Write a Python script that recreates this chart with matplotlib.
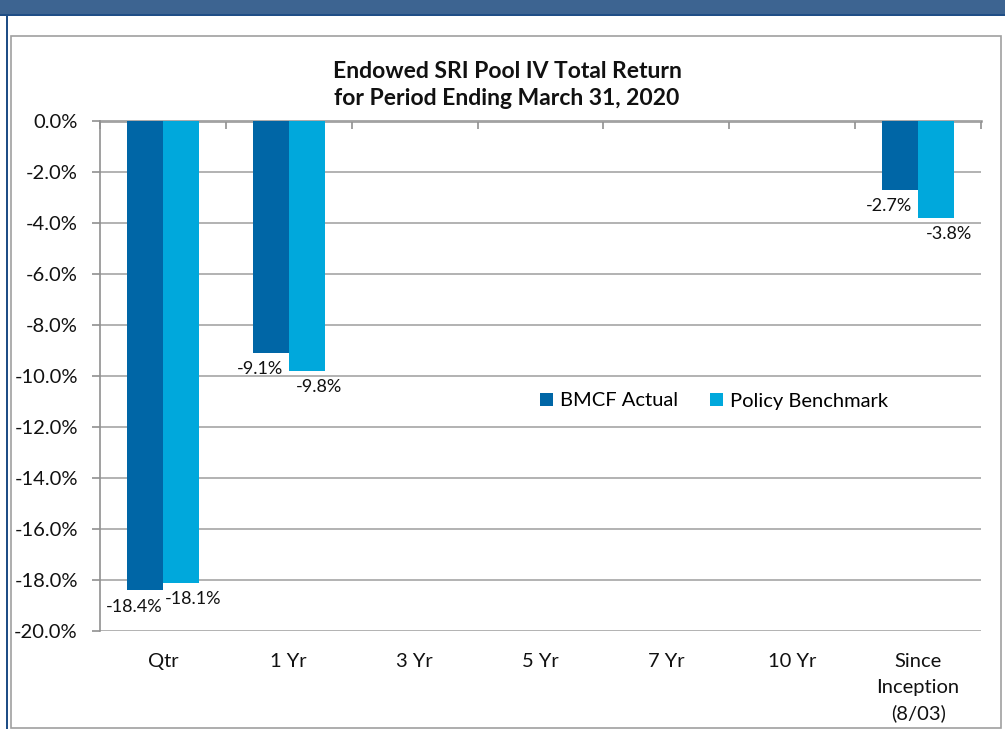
import numpy as np
import matplotlib as mpl
from matplotlib import pyplot as plt
from matplotlib.patches import Rectangle

categories = ["Qtr", "1 Yr", "3 Yr", "5 Yr", "7 Yr", "10 Yr", "Since\nInception\n(8/03)"]
bmcf_actual = [-18.4, -9.1, np.nan, np.nan, np.nan, np.nan, -2.7]
policy_bench = [-18.1, -9.8, np.nan, np.nan, np.nan, np.nan, -3.8]
yticks = np.arange(-20, 1, 2)

mpl.rcParams["font.family"] = ["Lato", "DejaVu Sans"]

W, H = 1005, 729
fig = plt.figure(figsize=(W / 100, H / 100), dpi=100)

# frame / header decoration
fig.patches.append(Rectangle((0, (H - 16) / H), 1, 16 / H, transform=fig.transFigure,
                             facecolor="#3D6491", edgecolor="none", zorder=0))
fig.patches.append(Rectangle((0, (H - 16) / H), 1, 2 / H, transform=fig.transFigure,
                             facecolor="#1F4E86", edgecolor="none", zorder=1))
fig.patches.append(Rectangle((6 / W, 0), 2 / W, (H - 16) / H, transform=fig.transFigure,
                             facecolor="#1F4E86", edgecolor="none", zorder=1))
fig.patches.append(Rectangle((11 / W, 1 / H), 990 / W, (H - 37) / H, transform=fig.transFigure,
                             facecolor="none", edgecolor="#A0A0A0", lw=1.2, zorder=1))

ax = fig.add_axes([100 / W, (H - 631) / H, 881 / W, 510 / H])

x = np.arange(len(categories))
bw = 0.286
c1, c2 = "#0066A6", "#00A8DC"
ax.bar(x - bw / 2, bmcf_actual, bw, color=c1, label="BMCF Actual", zorder=3)
ax.bar(x + bw / 2, policy_bench, bw, color=c2, label="Policy Benchmark", zorder=3)

for xi, v in zip(x, bmcf_actual):
    if not np.isnan(v):
        ax.annotate(f"{v:.1f}%", (xi - bw / 2, v), xytext=(-8, -6), textcoords="offset points",
                    ha="center", va="top", fontsize=13, color="#111111")
for xi, v in zip(x, policy_bench):
    if not np.isnan(v):
        ax.annotate(f"{v:.1f}%", (xi + bw / 2, v), xytext=(9, -6), textcoords="offset points",
                    ha="center", va="top", fontsize=13, color="#111111")

ax.set_xlim(-0.5, len(categories) - 0.5)
ax.set_ylim(-20, 0)
ax.set_yticks(yticks)
ax.set_yticklabels([f"{t:.1f}%" for t in yticks], fontsize=14.5, color="#111111")
ax.tick_params(axis="y", length=6, width=1.2, color="#909090", pad=10)
ax.set_xticks(x)
ax.set_xticklabels(categories, fontsize=14.5, color="#111111", va="top", linespacing=1.6)
ax.tick_params(axis="x", length=0, pad=16)

sec = ax.secondary_xaxis("top")
sec.set_xticks(np.arange(-0.5, len(categories), 1.0))
sec.tick_params(direction="in", length=6, width=1.2, color="#909090", labeltop=False)
sec.spines["top"].set_color("#909090")
sec.spines["top"].set_linewidth(1.8)

ax.grid(axis="y", color="#A6A6A6", lw=1.2, zorder=0)
for s in ["right", "bottom", "top"]:
    ax.spines[s].set_visible(False)
ax.spines["left"].set_color("#909090")
ax.spines["left"].set_linewidth(1.2)

fig.text(507 / W, 1 - 85 / H, "Endowed SRI Pool IV Total Return\nfor Period Ending March 31, 2020",
         ha="center", va="center", fontsize=16.5, fontweight="bold", linespacing=1.35, color="#111111")

ax.legend(loc="center", bbox_to_anchor=(714 / W, 1 - 401 / H), bbox_transform=fig.transFigure,
          ncol=2, frameon=False, fontsize=14.5, handlelength=0.65, handleheight=0.65,
          handletextpad=0.35, columnspacing=1.6)

plt.savefig("out.png", dpi=100)
